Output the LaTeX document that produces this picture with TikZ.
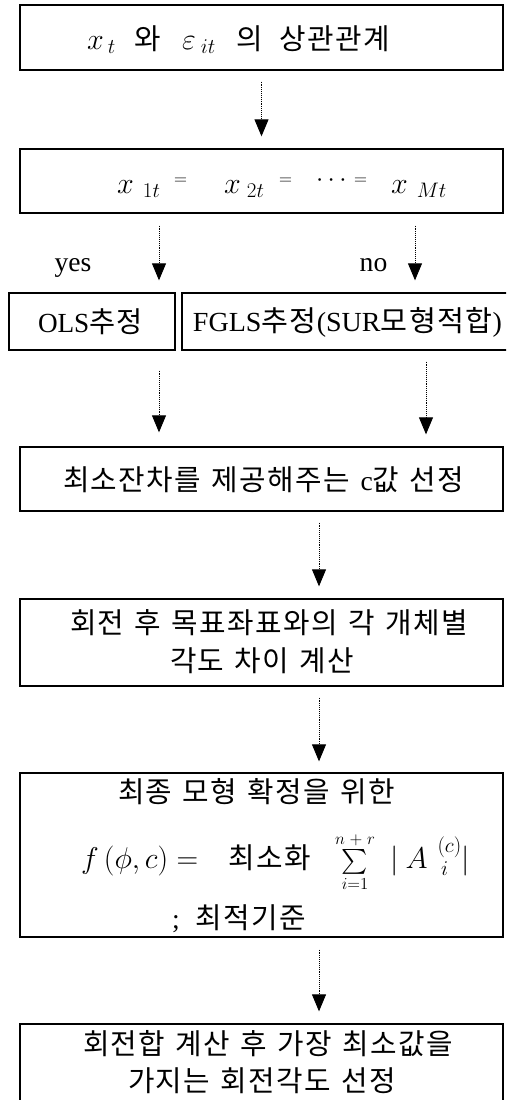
\documentclass[tikz,border=0pt]{standalone}
\usepackage{fix-cm}
\usepackage{amsmath}
\usepackage{fontspec}
\setmainfont[Scale=1.15]{Liberation Serif}
\newfontfamily\kr[Scale=1.2,LetterSpace=5,WordSpace=2]{Noto Sans CJK KR}
\usetikzlibrary{arrows.meta,calc}
\tikzset{
  box/.style={draw, line width=1.3pt, rectangle, inner sep=0pt, fill=none},
  txt/.style={inner sep=0pt, font=\fontsize{24}{28}\selectfont, align=center},
  arr/.style={densely dotted, line width=0.9pt, -{Triangle[width=14pt,length=17pt]}},
}
\newcommand\K[1]{{\kr #1}}
\newcommand\M[1]{{\fontsize{30}{34}\selectfont$#1$}}
\newcommand\Ms[1]{{\fontsize{24}{28}\selectfont$#1$}}
\newcommand\Sl[2]{\makebox[#1pt][l]{#2}}
\newcommand\Eq{\raisebox{9pt}{\fontsize{18}{20}\selectfont$=$}}
\begin{document}
\begin{tikzpicture}[x=1pt,y=-1pt]
\useasboundingbox (0,0) rectangle (506,1100);
\fill[white] (0,0) rectangle (506,1100);
\clip (0,0) rectangle (506,1100);
% boxes
\node[box, minimum width=483pt, minimum height=65pt] (b1) at (261.5,37.5) {};
\node[box, minimum width=483pt, minimum height=64pt] (b2) at (261.5,181) {};
\node[box, minimum width=166pt, minimum height=57pt] (ols) at (92,321.5) {};
\node[box, minimum width=348pt, minimum height=57pt] (fgls) at (356,321.5) {};
\node[box, minimum width=483pt, minimum height=64pt] (b3) at (261.5,479) {};
\node[box, minimum width=483pt, minimum height=87pt] (b4) at (261.5,642.5) {};
\node[box, minimum width=483pt, minimum height=164pt] (b5) at (261.5,855) {};
\node[box, minimum width=483pt, minimum height=106pt] (b6) at (261.5,1077) {};
% texts
\node[txt, anchor=base west] (t1) at (87,49) {\Sl{47}{\M{x_{\hspace{4pt}t}}}\Sl{48}{\K{와}}\Sl{54}{\M{\varepsilon_{\hspace{5pt}it}}}\Sl{43}{\K{의}}\K{상관관계}};
\node[txt, anchor=base west] (t2) at (117,193) {\Sl{57}{\M{x_{\hspace{9pt}1t}}}\Sl{50}{\Eq}\Sl{55}{\M{x_{\hspace{6pt}2t}}}\Sl{37}{\Eq}\Sl{38}{\raisebox{7pt}{\fontsize{26}{28}\selectfont$\cdots$}}\Sl{37}{\Eq}\M{x_{\hspace{9pt}Mt}}};
\node[txt, anchor=base] (yes) at (73,271) {yes};
\node[txt, anchor=base] (no) at (373.5,271) {no};
\node[txt] (tols) at (90.5,322) {\resizebox{105pt}{\height}{OLS\K{추정}}};
\node[txt] (tfgls) at (347.5,322) {\resizebox{309pt}{\height}{FGLS\K{추정}(SUR\K{모형적합})}};
\node[txt] (t3) at (260.5,480) {\makebox[395pt][s]{\K{최소잔차를 제공해주는 {\rmfamily c}값 선정}}};
\node[txt] (t4a) at (267.5,623) {\makebox[395pt][s]{\K{회전 후 목표좌표와의 각 개체별}}};
\node[txt] (t4b) at (261.5,661) {\makebox[183pt][s]{\K{각도 차이 계산}}};
\node[txt] (t5a) at (256.5,792) {\makebox[277pt][s]{\K{최종 모형 확정을 위한}}};
\node[txt, anchor=base west] (t5b) at (81,868) {\Sl{147}{\M{f\,(\phi, c) =}}\Sl{107}{\K{최소화}}\Sl{55}{\Ms{\sum\limits_{i=1}^{n\;+\;r}}}\M{|\hspace{7pt}A\hspace{10pt}{}^{(c)}_{\,i}|}};
\node[txt] (t5c) at (239,919) {;\hspace{16pt}\K{최적기준}};
\node[txt] (t6a) at (268,1044) {\makebox[370pt][s]{\K{회전합 계산 후 가장 최소값을}}};
\node[txt] (t6b) at (259,1081) {\makebox[262pt][s]{\K{가지는 회전각도 선정}}};
% arrow columns
\coordinate (cy) at (159,0);
\coordinate (cn) at (415,0);
\coordinate (cf) at (426,0);
\coordinate (cm) at (319,0);
% arrows
\draw[arr, shorten <=11pt, shorten >=12pt] (b1.south) -- (b2.north);
\draw[arr, shorten <=12pt, shorten >=12pt] (b2.south -| cy) -- (ols.north -| cy);
\draw[arr, shorten <=12pt, shorten >=12pt] (b2.south -| cn) -- (fgls.north -| cn);
\draw[arr, shorten <=20pt, shorten >=14pt] (ols.south -| cy) -- (b3.north -| cy);
\draw[arr, shorten <=11pt, shorten >=12pt] (fgls.south -| cf) -- (b3.north -| cf);
\draw[arr, shorten <=11pt, shorten >=12pt] (b3.south -| cm) -- (b4.north -| cm);
\draw[arr, shorten <=11pt, shorten >=11pt] (b4.south -| cm) -- (b5.north -| cm);
\draw[arr, shorten <=12pt, shorten >=12pt] (b5.south -| cm) -- (b6.north -| cm);
\end{tikzpicture}
\end{document}
